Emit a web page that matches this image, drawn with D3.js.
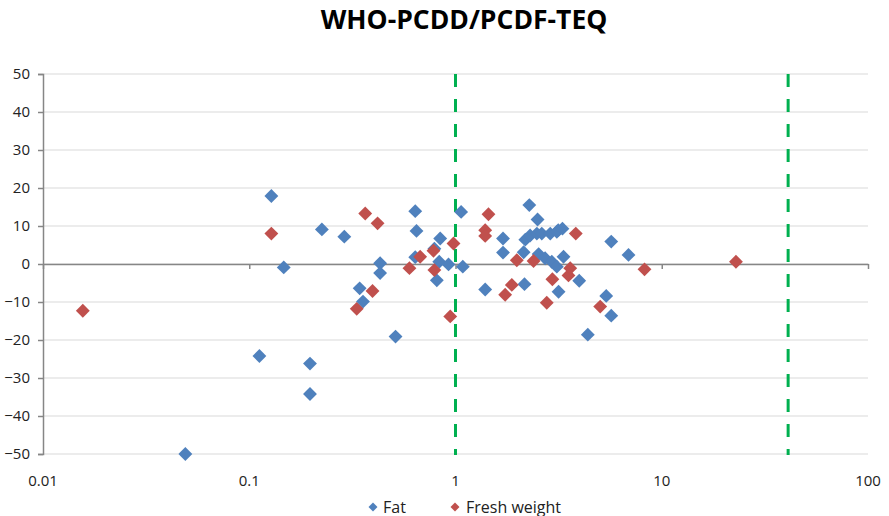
<!DOCTYPE html>
<html>
<head>
<meta charset="utf-8">
<script src="https://cdn.jsdelivr.net/npm/d3@7"></script>
<style>
  html, body { margin: 0; padding: 0; background: #fff; }
  svg { display: block; font-family: "Open Sans", "Lato", sans-serif; }
</style>
</head>
<body>
<svg id="chart" width="889" height="516"></svg>
<script>
const title = "WHO-PCDD/PCDF-TEQ";
const seriesNames = ["Fat", "Fresh weight"];
const seriesColors = ["#4F81BD", "#C0504D"];
const xTickValues = [0.01, 0.1, 1, 10, 100];
const xTickLabels = ["0.01", "0.1", "1", "10", "100"];
const yTickValues = [-50, -40, -30, -20, -10, 0, 10, 20, 30, 40, 50];
const limitLines = [1, 41];

const fatX = [0.049, 0.112, 0.128, 0.147, 0.197, 0.197, 0.225, 0.289, 0.343, 0.356,
  0.431, 0.431, 0.512, 0.638, 0.647, 0.638, 0.843, 0.79, 0.834, 0.925,
  1.085, 0.812, 1.065, 1.393, 1.70, 1.70, 2.14, 2.28, 2.5, 2.18,
  2.30, 2.48, 2.62, 2.88, 3.10, 3.15, 3.3, 2.53, 2.72, 2.93,
  3.10, 2.16, 3.34, 3.98, 3.16, 4.38, 5.38, 5.69, 5.69, 6.9];
const fatY = [-50, -24.2, 17.9, -0.9, -26.2, -34.2, 9.1, 7.2, -6.4, -9.9,
  0.2, -2.4, -19.1, 13.9, 8.7, 1.8, 6.7, 4.0, 0.6, -0.1,
  -0.7, -4.3, 13.7, -6.7, 6.7, 3.0, 3.1, 15.5, 11.7, 6.4,
  7.5, 8.0, 8.0, 8.0, 8.5, 8.9, 9.3, 2.6, 1.5, 0.6,
  -0.7, -5.3, 1.9, -4.4, -7.3, -18.6, -8.4, -13.6, 5.9, 2.4];

const freshX = [0.0156, 0.128, 0.332, 0.365, 0.396, 0.419, 0.598, 0.674, 0.782, 0.79,
  0.943, 0.978, 1.445, 1.393, 1.393, 1.741, 1.875, 1.983, 2.39, 2.77,
  2.95, 3.53, 3.6, 3.83, 5.03, 8.25, 22.9];
const freshY = [-12.3, 8.0, -11.8, 13.3, -7.1, 10.7, -1.1, 1.9, 3.5, -1.6,
  -13.8, 5.4, 13.1, 8.9, 7.4, -8.1, -5.5, 1.0, 0.8, -10.2,
  -4.0, -3.0, -1.1, 8.0, -11.2, -1.4, 0.6];

const svg = d3.select("#chart");
const x = d3.scaleLog().domain([0.01, 100]).range([43, 868]);
const y = d3.scaleLinear().domain([-50, 50]).range([454, 74]);

// title
svg.append("text").attr("x", 464).attr("y", 29).attr("text-anchor", "middle")
  .attr("font-size", 26.5).attr("font-weight", "bold").attr("fill", "#000").text(title);

// gridlines
svg.append("g").selectAll("line").data(yTickValues).join("line")
  .attr("x1", x(0.01)).attr("x2", x(100))
  .attr("y1", d => y(d)).attr("y2", d => y(d))
  .attr("stroke", "#d9d9d9").attr("stroke-width", 1.2);

// y axis
const yAxis = d3.axisLeft(y).tickValues(yTickValues).tickSize(5).tickPadding(8);
const gy = svg.append("g").attr("transform", `translate(${x(0.01)},0)`).call(yAxis);
gy.select(".domain").attr("stroke", "#868686").attr("stroke-width", 1.5);
gy.selectAll(".tick line").attr("stroke", "#868686").attr("stroke-width", 1.5);
gy.selectAll(".tick text").attr("font-size", 15).attr("fill", "#222")
  .attr("font-family", "Open Sans, sans-serif");

// x axis at y=0
const xAxis = d3.axisBottom(x).tickValues(xTickValues).tickFormat((d, i) => xTickLabels[i])
  .tickSize(5).tickSizeOuter(0);
const gx = svg.append("g").attr("transform", `translate(0,${y(0)})`).call(xAxis);
gx.select(".domain").attr("stroke", "#868686").attr("stroke-width", 1.5);
gx.selectAll(".tick line").attr("stroke", "#868686").attr("stroke-width", 1.5);
gx.selectAll(".tick text").remove();

// x labels at bottom
svg.append("g").selectAll("text").data(xTickValues).join("text")
  .attr("x", d => x(d)).attr("y", 486).attr("text-anchor", "middle")
  .attr("font-size", 15).attr("fill", "#222").text((d, i) => xTickLabels[i]);

// limit lines
svg.append("g").selectAll("line").data(limitLines).join("line")
  .attr("x1", d => x(d)).attr("x2", d => x(d))
  .attr("y1", y(50)).attr("y2", y(-50) + 1)
  .attr("stroke", "#00B050").attr("stroke-width", 3).attr("stroke-dasharray", "13,12");

// markers (diamonds)
const markerPath = d3.symbol().type(d3.symbolSquare).size(96)();
function drawSeries(xs, ys, color) {
  const data = xs.map((v, i) => [v, ys[i]]);
  svg.append("g").selectAll("path").data(data).join("path")
    .attr("d", markerPath)
    .attr("transform", d => `translate(${x(d[0])},${y(d[1])}) rotate(45)`)
    .attr("fill", color);
}
drawSeries(fatX, fatY, seriesColors[0]);
drawSeries(freshX, freshY, seriesColors[1]);

// legend
const legendItems = [
  {name: seriesNames[0], color: seriesColors[0], mx: 373, tx: 383},
  {name: seriesNames[1], color: seriesColors[1], mx: 455, tx: 466}
];
const lg = svg.append("g");
legendItems.forEach(it => {
  lg.append("path").attr("d", d3.symbol().type(d3.symbolSquare).size(40)())
    .attr("transform", `translate(${it.mx},507) rotate(45)`).attr("fill", it.color);
  lg.append("text").attr("x", it.tx).attr("y", 512.5).attr("font-size", 16)
    .attr("fill", "#222").text(it.name);
});
</script>
</body>
</html>
